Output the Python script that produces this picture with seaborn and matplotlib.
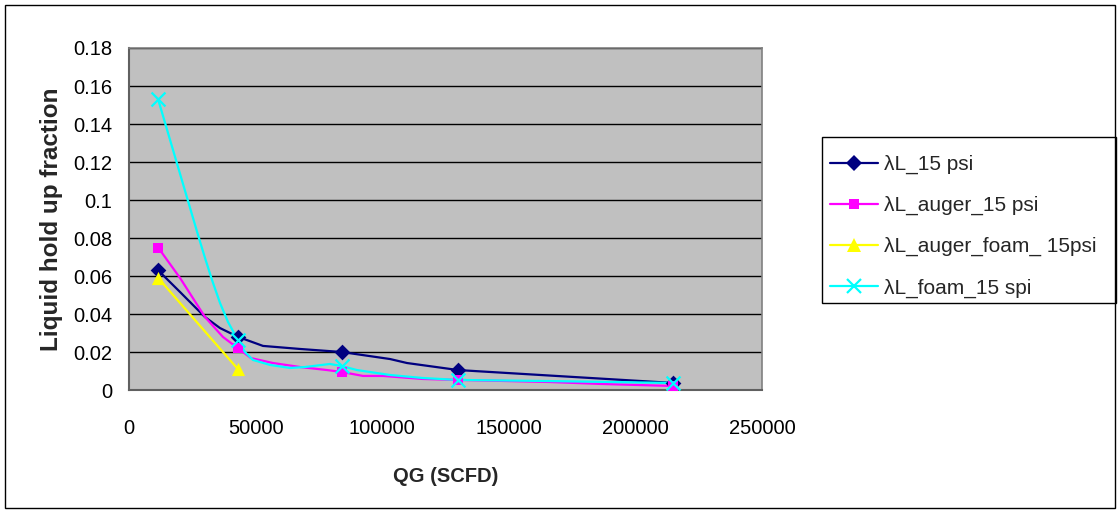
import matplotlib
matplotlib.use("Agg")
import matplotlib.pyplot as plt
from matplotlib.lines import Line2D
from matplotlib.patches import Rectangle
from matplotlib.ticker import FuncFormatter, MultipleLocator
import seaborn as sns

sns.set_style("white")
plt.rcParams["font.family"] = ["Liberation Sans", "DejaVu Sans"]

# Measured points (gas rate QG in SCFD, liquid hold-up fraction)
qg_points = [11500, 43000, 84000, 130000, 215000]
holdup_15psi = [0.063, 0.028, 0.020, 0.0105, 0.0037]
holdup_auger = [0.075, 0.022, 0.0095, 0.0053, 0.0021]
qg_auger_foam = [11500, 43000]
holdup_auger_foam = [0.059, 0.011]
holdup_foam = [0.153, 0.0263, 0.0126, 0.0053, 0.0037]

# Vertices of the connecting curves
path_15psi_x = [11500, 20140, 26860, 30020, 35940, 43000, 52920, 67530, 84000,
                103080, 109790, 130000, 215000]
path_15psi_y = [0.063, 0.0516, 0.0426, 0.0384, 0.0326, 0.028, 0.0232, 0.0216,
                0.020, 0.0163, 0.0142, 0.0105, 0.0037]

path_auger_x = [11500, 20140, 30020, 37120, 43000, 48180, 56870, 67530, 78200,
                84000, 92420, 100300, 116100, 130000, 166270, 186000, 215000]
path_auger_y = [0.075, 0.059, 0.0384, 0.0279, 0.022, 0.0168, 0.0142, 0.0121,
                0.0105, 0.0095, 0.0074, 0.0074, 0.0058, 0.0053, 0.0042, 0.0032,
                0.0021]

path_foam_x = [11500, 15405, 19355, 23305, 27255, 30020, 32785, 35945, 39105,
               43000, 45810, 48970, 55690, 63590, 69510, 79380, 84000, 90050,
               103080, 116110, 130000, 166270, 215000]
path_foam_y = [0.153, 0.1353, 0.1174, 0.0995, 0.0816, 0.0695, 0.0579, 0.0458,
               0.0358, 0.0263, 0.020, 0.0158, 0.0132, 0.0116, 0.0121, 0.0137,
               0.0126, 0.0105, 0.0079, 0.0063, 0.0053, 0.0047, 0.0037]

labels = ["λL_15 psi", "λL_auger_15 psi", "λL_auger_foam_ 15psi", "λL_foam_15 spi"]
colors = ["#000080", "#FF00FF", "#FFFF00", "#00FFFF"]
markers = ["D", "s", "^", "x"]
msizes = [8, 7.5, 9.5, 10]

series = [
    (path_15psi_x, path_15psi_y, qg_points, holdup_15psi),
    (path_auger_x, path_auger_y, qg_points, holdup_auger),
    (qg_auger_foam, holdup_auger_foam, qg_auger_foam, holdup_auger_foam),
    (path_foam_x, path_foam_y, qg_points, holdup_foam),
]

W, H = 1118, 512
fig = plt.figure(figsize=(W / 100, H / 100), dpi=100)
ax = fig.add_axes([129 / W, 1 - 390 / H, (762 - 129) / W, (390 - 48) / H])
ax.set_facecolor("#C0C0C0")

for (px, py, mx, my), c, m, ms in zip(series, colors, markers, msizes):
    sns.lineplot(x=px, y=py, sort=False, estimator=None, color=c, lw=1.6,
                 ax=ax, legend=False, zorder=3)
    sns.scatterplot(x=mx, y=my, marker=m, color=c, s=ms ** 2,
                    linewidth=(1.6 if m == "x" else 0),
                    ax=ax, legend=False, zorder=4)

ax.set_xlim(0, 250000)
ax.set_ylim(0, 0.18)
ax.xaxis.set_major_locator(MultipleLocator(50000))
ax.yaxis.set_major_locator(MultipleLocator(0.02))
ax.yaxis.set_major_formatter(FuncFormatter(lambda v, p: f"{v:.2f}".rstrip("0").rstrip(".") if v else "0"))
ax.xaxis.set_major_formatter(FuncFormatter(lambda v, p: f"{int(round(v))}"))
ax.grid(axis="y", color="black", lw=1.0)
ax.grid(axis="x", visible=False)
ax.set_axisbelow(True)
for side in ["top", "right"]:
    ax.spines[side].set_color("#808080")
    ax.spines[side].set_linewidth(1.2)
for side in ["left", "bottom"]:
    ax.spines[side].set_color("#606060")
    ax.spines[side].set_linewidth(1.5)
ax.tick_params(axis="both", direction="out", width=1.0, color="#404040",
               labelsize=14.5, labelcolor="black")
ax.tick_params(axis="y", length=5, pad=7)
ax.tick_params(axis="x", length=6, pad=15)

ax.set_xlabel("QG (SCFD)", fontsize=14.5, fontweight="bold", labelpad=21)
ax.set_ylabel("Liquid hold up fraction", fontsize=17.5, fontweight="bold", labelpad=7)

# Legend entries without their own frame; the box is drawn separately
handles = [Line2D([], [], color=c, lw=1.6, marker=m, markersize=ms,
                  markeredgewidth=(1.6 if m == "x" else 0))
           for c, m, ms in zip(colors, markers, msizes)]
leg = fig.legend(handles, labels, loc="upper left",
                 bbox_to_anchor=(830 / W, 1 - 155 / H),
                 fontsize=15, frameon=False, handlelength=2.3,
                 handletextpad=0.3, labelspacing=1.05, borderpad=0,
                 borderaxespad=0)

fig.patches.append(Rectangle((822 / W, 1 - 303 / H), (1116 - 822) / W, (303 - 137) / H,
                             transform=fig.transFigure, fill=False,
                             edgecolor="black", lw=1.0))
fig.patches.append(Rectangle((5 / W, 4 / H), 1110 / W, 503 / H,
                             transform=fig.transFigure, fill=False,
                             edgecolor="black", lw=1.0))

fig.savefig("out.png", dpi=100)
